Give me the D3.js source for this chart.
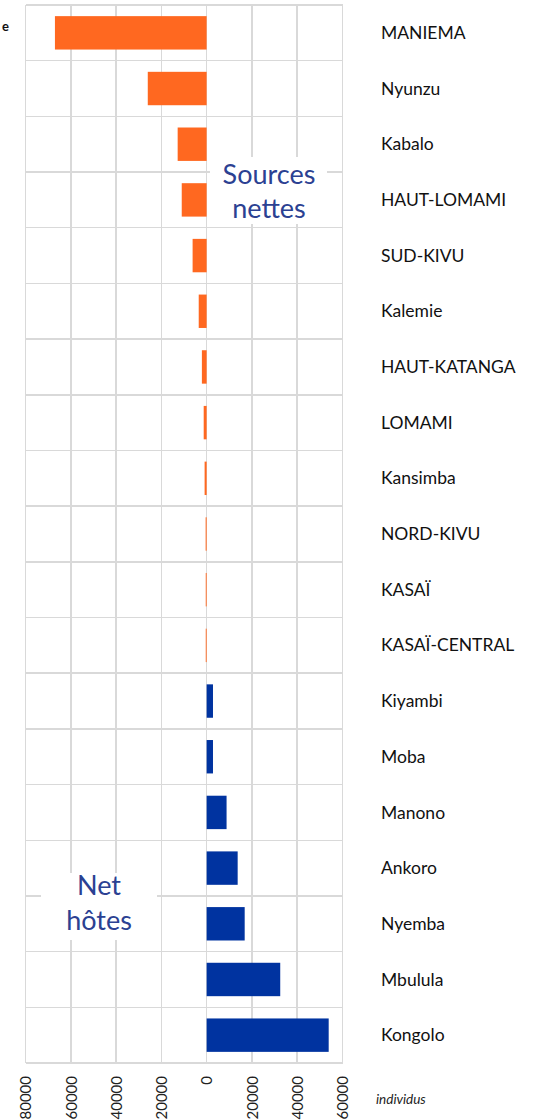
<!DOCTYPE html>
<html lang="fr">
  <head>
    <meta charset="utf-8">
    <title>Sources nettes / Net hôtes</title>
    <script type="text/javascript" src="https://cdn.jsdelivr.net/npm/d3@7"></script>
    <style>
      body { margin: 0; background: #fff; }
      .grid line { stroke: #d9d9d9; stroke-width: 1.5; shape-rendering: crispEdges; }
      .axis text { font-family: Lato, sans-serif; font-size: 15px; fill: #222; }
      .cat { font-family: Lato, sans-serif; font-size: 17.5px; fill: #111; }
      .note { font-family: Lato, sans-serif; font-size: 27px; fill: #2b4192; }
    </style>
  </head>
  <body>
    <script type="text/javascript">

      var w = 537;
      var h = 1120;

      var categories = ["MANIEMA", "Nyunzu", "Kabalo", "HAUT-LOMAMI", "SUD-KIVU", "Kalemie",
                        "HAUT-KATANGA", "LOMAMI", "Kansimba", "NORD-KIVU", "KASAÏ", "KASAÏ-CENTRAL",
                        "Kiyambi", "Moba", "Manono", "Ankoro", "Nyemba", "Mbulula", "Kongolo"];
      var values = [-67000, -26000, -12800, -11000, -6200, -3500,
                    -2100, -1300, -900, -450, -400, -400,
                    2800, 2800, 8800, 13700, 16800, 32500, 53900];
      var tickValues = [-80000, -60000, -40000, -20000, 0, 20000, 40000, 60000];
      var tickLabels = ["80000", "60000", "40000", "20000", "0", "20000", "40000", "60000"];

      var plotLeft = 25.5, plotRight = 342.5, plotTop = 5, plotBottom = 1063;

      var svg = d3.select("body")
                  .append("svg")
                  .attr("width", w)
                  .attr("height", h);

      var xScale = d3.scaleLinear()
                     .domain([-80000, 60000])
                     .range([plotLeft, plotRight]);

      var yScale = d3.scaleBand()
                     .domain(categories)
                     .range([plotTop, plotBottom])
                     .paddingInner(0.4)
                     .paddingOuter(0.2);

      var rowStep = (plotBottom - plotTop) / categories.length;

      // grid
      var grid = svg.append("g").attr("class", "grid");
      grid.selectAll("line.v")
          .data(tickValues)
          .enter()
          .append("line")
          .attr("class", "v")
          .attr("x1", function(d) { return xScale(d); })
          .attr("x2", function(d) { return xScale(d); })
          .attr("y1", plotTop)
          .attr("y2", plotBottom);
      grid.selectAll("line.h")
          .data(d3.range(categories.length + 1))
          .enter()
          .append("line")
          .attr("class", "h")
          .attr("x1", plotLeft)
          .attr("x2", plotRight)
          .attr("y1", function(i) { return plotTop + i * rowStep; })
          .attr("y2", function(i) { return plotTop + i * rowStep; });

      // bars
      svg.selectAll("rect.bar")
         .data(categories)
         .enter()
         .append("rect")
         .attr("class", "bar")
         .attr("x", function(d, i) { return xScale(Math.min(0, values[i])); })
         .attr("y", function(d) { return yScale(d); })
         .attr("width", function(d, i) { return Math.abs(xScale(values[i]) - xScale(0)); })
         .attr("height", yScale.bandwidth())
         .attr("fill", function(d, i) { return values[i] < 0 ? "#ff6820" : "#0033a0"; });

      // category labels
      svg.selectAll("text.cat")
         .data(categories)
         .enter()
         .append("text")
         .attr("class", "cat")
         .attr("x", 381)
         .attr("y", function(d) { return yScale(d) + yScale.bandwidth() / 2; })
         .attr("dy", "0.35em")
         .text(function(d) { return d; });

      // x axis, rotated labels
      var xAxis = d3.axisBottom(xScale)
                    .tickValues(tickValues)
                    .tickSize(0)
                    .tickFormat(function(d, i) { return tickLabels[i]; });

      var ax = svg.append("g")
                  .attr("class", "axis")
                  .attr("transform", "translate(0," + plotBottom + ")")
                  .call(xAxis);
      ax.select(".domain").remove();
      ax.selectAll("text")
        .attr("transform", "translate(0,13) rotate(-90)")
        .attr("x", 0)
        .attr("y", 0)
        .attr("dy", "0.35em")
        .style("text-anchor", "end");

      svg.append("text")
         .attr("x", 376)
         .attr("y", 1104)
         .attr("font-family", "Lato, sans-serif")
         .attr("font-style", "italic")
         .attr("font-size", "13.5px")
         .attr("fill", "#222")
         .text("individus");

      // cut-off legend letter at top left
      svg.append("text")
         .attr("x", 9)
         .attr("y", 31)
         .attr("text-anchor", "end")
         .attr("font-family", "Lato, sans-serif")
         .attr("font-weight", "bold")
         .attr("font-size", "13px")
         .attr("fill", "#111")
         .text("e");

      // annotations
      svg.append("rect")
         .attr("x", 210).attr("y", 157).attr("width", 117).attr("height", 67)
         .attr("fill", "#fff");
      svg.append("text").attr("class", "note")
         .attr("x", 269).attr("y", 184).attr("text-anchor", "middle").text("Sources");
      svg.append("text").attr("class", "note")
         .attr("x", 269).attr("y", 218).attr("text-anchor", "middle").text("nettes");

      svg.append("rect")
         .attr("x", 41).attr("y", 873).attr("width", 116).attr("height", 67)
         .attr("fill", "#fff");
      svg.append("text").attr("class", "note")
         .attr("x", 99).attr("y", 895).attr("text-anchor", "middle").text("Net");
      svg.append("text").attr("class", "note")
         .attr("x", 99).attr("y", 930).attr("text-anchor", "middle").text("hôtes");

    </script>
  </body>
</html>
